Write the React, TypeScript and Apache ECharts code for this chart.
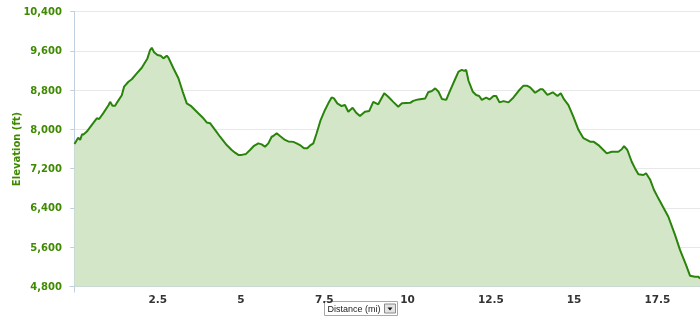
import React, { useEffect, useRef } from "react";
import * as echarts from "echarts";

const distanceMi = [
  0.0, 0.11, 0.17, 0.23, 0.26, 0.37, 0.56, 0.67, 0.74, 0.86, 1.02, 1.07, 1.14, 1.22, 1.29, 1.42, 1.49, 1.62, 1.72, 1.87,
  2.02, 2.19, 2.27, 2.32, 2.39, 2.49, 2.59, 2.67, 2.77, 2.82, 2.97, 3.12, 3.25, 3.37, 3.49, 3.67, 3.87, 3.97, 4.07, 4.22,
  4.37, 4.57, 4.72, 4.82, 4.92, 5.02, 5.15, 5.27, 5.39, 5.52, 5.62, 5.72, 5.82, 5.92, 5.97, 6.07, 6.17, 6.32, 6.42, 6.57,
  6.67, 6.77, 6.89, 6.99, 7.09, 7.17, 7.27, 7.39, 7.52, 7.62, 7.72, 7.79, 7.89, 8.02, 8.12, 8.22, 8.35, 8.45, 8.57, 8.72,
  8.85, 8.97, 9.12, 9.3, 9.42, 9.57, 9.72, 9.83, 10.08, 10.17, 10.32, 10.53, 10.62, 10.73, 10.83, 10.93, 11.03, 11.16, 11.26, 11.43,
  11.53, 11.63, 11.7, 11.76, 11.83, 11.96, 12.06, 12.15, 12.23, 12.36, 12.46, 12.58, 12.66, 12.76, 12.88, 13.03, 13.18, 13.33, 13.48, 13.58,
  13.68, 13.83, 13.98, 14.06, 14.2, 14.36, 14.5, 14.6, 14.7, 14.83, 14.98, 15.13, 15.28, 15.38, 15.48, 15.58, 15.73, 15.88, 15.98, 16.13,
  16.33, 16.43, 16.5, 16.6, 16.73, 16.83, 16.93, 17.08, 17.16, 17.28, 17.4, 17.53, 17.68, 17.83, 18.03, 18.18, 18.36, 18.48, 18.63, 18.73,
  18.78,
];

const elevationFt = [
  7700, 7830, 7785, 7905, 7890, 7955, 8125, 8225, 8210, 8325, 8490, 8560, 8480, 8480, 8560, 8695, 8870, 8970, 9020, 9140,
  9255, 9445, 9615, 9660, 9570, 9515, 9500, 9445, 9500, 9460, 9245, 9040, 8765, 8530, 8480, 8360, 8225, 8140, 8125, 7990,
  7850, 7680, 7580, 7525, 7480, 7480, 7500, 7580, 7665, 7715, 7695, 7645, 7715, 7850, 7865, 7920, 7865, 7785, 7755, 7745,
  7715, 7680, 7615, 7615, 7680, 7715, 7920, 8190, 8395, 8530, 8650, 8630, 8530, 8475, 8495, 8360, 8440, 8345, 8270, 8360,
  8375, 8560, 8510, 8735, 8665, 8560, 8460, 8530, 8540, 8580, 8610, 8630, 8755, 8780, 8835, 8765, 8620, 8600, 8765, 9025,
  9175, 9210, 9190, 9210, 8990, 8765, 8700, 8680, 8600, 8645, 8610, 8680, 8680, 8550, 8575, 8550, 8650, 8780, 8890, 8890,
  8855, 8745, 8815, 8815, 8700, 8755, 8680, 8735, 8610, 8495, 8255, 7990, 7820, 7785, 7750, 7750, 7680, 7580, 7510, 7545,
  7545, 7595, 7660, 7580, 7340, 7205, 7085, 7070, 7105, 6980, 6765, 6595, 6410, 6220, 5850, 5545, 5240, 5020, 5000, 5000,
  4960,
];

const xTickLabels = [2.5, 5, 7.5, 10, 12.5, 15, 17.5];
const yMin = 4800;
const yMax = 10400;
const yStep = 800;

const GREEN_TEXT = "#3f8a00";

export default function App() {
  const ref = useRef<HTMLDivElement>(null);

  useEffect(() => {
    if (!ref.current) return;
    const chart = echarts.init(ref.current, undefined, { renderer: "svg" });
    const data = distanceMi.map((d, i) => [d, elevationFt[i]]);
    chart.setOption({
      animation: false,
      grid: { left: 70, right: 0, top: 11.5, bottom: 38.5, containLabel: false, outerBoundsMode: "none" },
      xAxis: {
        type: "value",
        min: -0.135,
        max: 18.78,
        axisLine: { show: true, lineStyle: { color: "#c0d0e0", width: 1 } },
        axisTick: { show: true, customValues: [0], length: 6, lineStyle: { color: "#c0d0e0" } },
        splitLine: { show: false },
        axisLabel: {
          customValues: xTickLabels,
          color: "#333333",
          fontWeight: "bold",
          fontSize: 10.5,
          fontFamily: "DejaVu Sans",
          margin: 7,
          formatter: (v: number) => String(v),
        },
      },
      yAxis: {
        type: "value",
        min: yMin,
        max: yMax,
        interval: yStep,
        name: "Elevation (ft)",
        nameLocation: "middle",
        nameGap: 49,
        nameMoveOverlap: false,
        nameTextStyle: { color: GREEN_TEXT, fontWeight: "bold", fontSize: 10, fontFamily: "DejaVu Sans" },
        axisLine: { show: true, lineStyle: { color: "#c0d0e0", width: 1 } },
        axisTick: { show: true, length: 4, lineStyle: { color: "#c0d0e0" } },
        splitLine: { show: true, lineStyle: { color: "#e8e8e8", width: 1 } },
        axisLabel: {
          color: GREEN_TEXT,
          fontWeight: "bold",
          fontSize: 10,
          fontFamily: "DejaVu Sans",
          margin: 8,
          formatter: (v: number) => v.toLocaleString("en-US"),
        },
      },
      series: [
        {
          type: "line",
          data,
          showSymbol: false,
          symbol: "none",
          smooth: false,
          lineStyle: { color: "#2a840c", width: 2 },
          areaStyle: { color: "#d3e6c8", opacity: 1 },
        },
      ],
      graphic: [
        {
          type: "group",
          left: 324,
          top: 301,
          children: [
            { type: "rect", shape: { x: 0, y: 0, width: 73, height: 14 }, style: { fill: "#ffffff", stroke: "#a8a8a8", lineWidth: 1 } },
            {
              type: "text",
              x: 3,
              y: 7.5,
              style: { text: "Distance (mi)", fill: "#222222", font: "9px 'Liberation Sans', Arial, sans-serif", verticalAlign: "middle" },
            },
            { type: "rect", shape: { x: 60, y: 2.5, width: 11, height: 9 }, style: { fill: "#e4e4e4", stroke: "#8a8a8a", lineWidth: 1 } },
            { type: "polygon", shape: { points: [[63, 6], [68, 6], [65.5, 9]] }, style: { fill: "#111111" } },
          ],
        },
      ],
    });
    return () => chart.dispose();
  }, []);

  return <div ref={ref} style={{ position: "fixed", left: 0, top: 0, width: 700, height: 325 }} />;
}
